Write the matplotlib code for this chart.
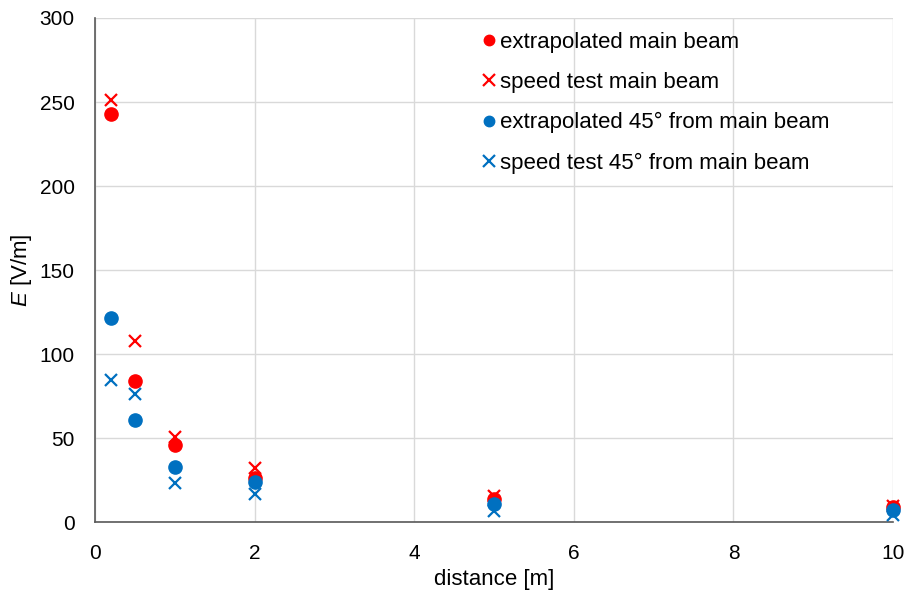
import matplotlib
matplotlib.use("Agg")
import matplotlib.pyplot as plt

plt.rcParams['font.family'] = ['Liberation Sans', 'DejaVu Sans']
plt.rcParams['mathtext.fontset'] = 'custom'
plt.rcParams['mathtext.it'] = 'Liberation Sans:italic'
plt.rcParams['mathtext.rm'] = 'Liberation Sans'

distance = [0.2, 0.5, 1, 2, 5, 10]
extrap_main = [243, 84, 46, 26, 14, 9]
speed_main = [251, 108, 50.5, 32, 15.5, 9.5]
extrap_45 = [121.5, 60.5, 33, 24, 10.5, 7]
speed_45 = [84.5, 76, 23.5, 16.5, 6.5, 4]

RED = '#FF0000'
BLUE = '#0070C0'

fig = plt.figure(figsize=(9.07, 5.92), dpi=100)
ax = fig.add_axes([0.1047, 0.1182, 0.88, 0.8514])

kw = dict(zorder=3, clip_on=False, linestyle='none')
ax.plot(distance, extrap_main, marker='o', color=RED, ms=9.5, label='extrapolated main beam', **kw)
ax.plot(distance, speed_main, marker='x', color=RED, ms=8, mew=1.6, label='speed test main beam', **kw)
ax.plot(distance, extrap_45, marker='o', color=BLUE, ms=9.5, label='extrapolated 45° from main beam', **kw)
ax.plot(distance, speed_45, marker='x', color=BLUE, ms=8, mew=1.6, label='speed test 45° from main beam', **kw)

ax.set_xlim(0, 10)
ax.set_ylim(0, 300)
ax.set_xticks(range(0, 11, 2))
ax.set_yticks(range(0, 301, 50))
ax.grid(True, color='#D9D9D9', lw=1)
ax.set_axisbelow(True)
ax.tick_params(length=0, labelsize=15, colors='#000000')
ax.tick_params(axis='x', pad=16)
ax.tick_params(axis='y', pad=14.5)
for s in ['top', 'right']:
    ax.spines[s].set_visible(False)
for s in ['left', 'bottom']:
    ax.spines[s].set_color('#595959')
    ax.spines[s].set_linewidth(1.2)

ax.set_xlabel('distance [m]', fontsize=16, labelpad=4)
ax.set_ylabel('$E$ [V/m]', fontsize=16, labelpad=4)

leg = ax.legend(loc='upper left', bbox_to_anchor=(483 / 907, 1 - 32 / 592), bbox_transform=fig.transFigure,
                frameon=False, fontsize=16,
                handletextpad=0.28, handlelength=0.5, labelspacing=0.86, borderaxespad=0, borderpad=0)
for h in leg.legend_handles:
    if h.get_marker() == 'o':
        h.set_markersize(7.5)

fig.savefig('out.png', dpi=100)
